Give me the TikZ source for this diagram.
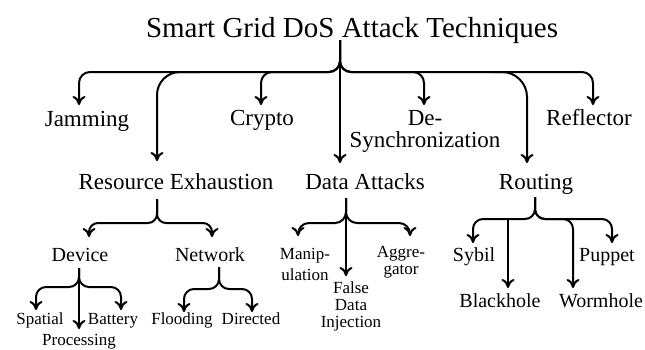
\documentclass[tikz,border=0pt]{standalone}
\usepackage{fontspec}
\setmainfont{Liberation Serif}
\usetikzlibrary{arrows.meta}
\begin{document}
\begin{tikzpicture}[x=1pt,y=-1pt,
  ttl/.style={inner sep=0pt,anchor=base,font=\fontsize{29}{34}\selectfont},
  lone/.style={inner sep=0pt,anchor=base,align=center,font=\fontsize{23}{22}\selectfont},
  ltwo/.style={inner sep=0pt,anchor=base,align=center,font=\fontsize{20}{20}\selectfont},
  lthree/.style={inner sep=0pt,anchor=base,align=center,font=\fontsize{17}{17}\selectfont},
  con/.style={line width=2pt,line join=round,-{To[length=9pt,width=13pt,line width=2pt]}}]
\useasboundingbox (0,0) rectangle (645,349);

% ---------------- title ----------------
\node[ttl] (title) at (352,37) {Smart Grid DoS Attack Techniques};
\coordinate (t0) at (340,40);

% ---------------- level 1 ----------------
\node[lone] (jam) at (87,126) {Jamming};
\node[lone] (cry) at (262,125) {Crypto};
\node[lone] (des) at (425,147) {De-\\Synchronization};
\node[lone] (ref) at (589,125) {Reflector};
\node[lone] (res) at (176,189) {Resource Exhaustion};
\node[lone] (dat) at (365,189) {Data Attacks};
\node[lone] (rou) at (536,189) {Routing};

\coordinate (jamT) at (79,105);
\coordinate (cryT) at (261,105);
\coordinate (desT) at (424,105);
\coordinate (refT) at (593,105);
\coordinate (resJ) at (200,72);
\coordinate (resT) at (157,161);
\coordinate (datT) at (340,163);
\coordinate (rouJ) at (490,72);
\coordinate (rouT) at (527,163);

\draw[con] (t0) [rounded corners=11pt] |- (79,72) -- (jamT);
\draw[con] (t0) [rounded corners=11pt] |- (261,72) -- (cryT);
\draw[con] (t0) [rounded corners=11pt] |- (424,72) -- (desT);
\draw[con] (t0) [rounded corners=11pt] |- (593,72) -- (refT);
\draw[con] (t0) -- (datT);
\draw[con] (resJ) [rounded corners=23pt] -| (resT);
\draw[con] (rouJ) [rounded corners=25pt] -| (rouT);

% ---------------- Resource Exhaustion ----------------
\node[ltwo] (dev) at (80,261) {Device};
\node[ltwo] (net) at (210,261) {Network};
\coordinate (r0) at (157,199);
\coordinate (devT) at (89,237);
\coordinate (netT) at (212,237);
\draw[con] (r0) [rounded corners=9pt] |- (89,223) -- (devT);
\draw[con] (r0) [rounded corners=9pt] |- (212,223) -- (netT);

% Device
\node[lthree] (spa) at (40,324) {Spatial};
\node[lthree] (bat) at (113,324) {Battery};
\node[lthree] (pro) at (79,345) {Processing};
\coordinate (d0) at (79,268);
\coordinate (spaT) at (36,310);
\coordinate (batT) at (121,310);
\coordinate (proT) at (79,329);
\draw[con] (d0) [rounded corners=10pt] |- (36,287) -- (spaT);
\draw[con] (d0) [rounded corners=10pt] |- (121,287) -- (batT);
\draw[con] (d0) -- (proT);

% Network
\node[lthree] (flo) at (182,324) {Flooding};
\node[lthree] (dir) at (251,324) {Directed};
\coordinate (n0) at (219,267);
\coordinate (floT) at (184,312);
\coordinate (dirT) at (252,312);
\draw[con] (n0) [rounded corners=10pt] |- (184,289) -- (floT);
\draw[con] (n0) [rounded corners=10pt] |- (252,289) -- (dirT);

% ---------------- Data Attacks ----------------
\node[lthree] (man) at (305,280) {Manip-\\[4pt]ulation};
\node[lthree] (agg) at (401,274) {Aggre-\\gator};
\node[lthree] (fdi) at (351,327) {False\\Data\\Injection};
\coordinate (a0) at (346,198);
\coordinate (manT) at (298,236);
\coordinate (aggT) at (410,236);
\coordinate (fdiT) at (346,276);
\draw[con] (a0) [rounded corners=11pt] |- (298,223) -- (manT);
\draw[con] (a0) [rounded corners=11pt] |- (410,223) -- (aggT);
\draw[con] (a0) -- (fdiT);

% ---------------- Routing ----------------
\node[ltwo] (syb) at (474,261) {Sybil};
\node[ltwo] (pup) at (607,261) {Puppet};
\node[ltwo] (blk) at (500,307) {Blackhole};
\node[ltwo] (wor) at (601,307) {Wormhole};
\coordinate (o0) at (535,197);
\coordinate (sybT) at (473,243);
\coordinate (pupT) at (612,243);
\coordinate (blkJ) at (508,219);
\coordinate (blkT) at (508,288);
\coordinate (worT) at (573,288);
\draw[con] (o0) [rounded corners=10pt] |- (473,219) -- (sybT);
\draw[con] (o0) [rounded corners=10pt] |- (612,219) -- (pupT);
\draw[con] (o0) [rounded corners=10pt] |- (573,219) -- (worT);
\draw[con] (blkJ) -- (blkT);
\end{tikzpicture}
\end{document}
